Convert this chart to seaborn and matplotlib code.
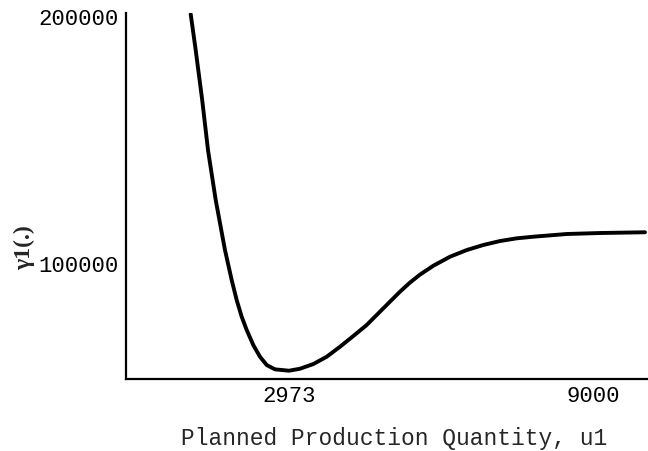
import matplotlib
matplotlib.use("Agg")
import matplotlib.pyplot as plt
import seaborn as sns
import pandas as pd

# Planned production quantity u1 and the resulting cost gamma1
u1 = [1024, 1123, 1252, 1367, 1520, 1704, 1837, 1936, 2035, 2134, 2265,
      2398, 2531, 2695, 2973, 3191, 3455, 3720, 3984, 4248, 4513, 4777,
      5041, 5174, 5372, 5570, 5834, 6165, 6496, 6825, 7156, 7487, 7816,
      8147, 8479, 9139, 10031]
gamma1 = [201200, 186650, 166400, 146150, 125900, 105650, 93500, 85400,
          78650, 73300, 67200, 62450, 59100, 57350, 56800, 57600, 59500,
          62450, 66500, 70850, 75300, 80700, 86100, 88800, 92500, 95700,
          99300, 102950, 105650, 107700, 109300, 110400, 111050, 111600,
          112150, 112550, 112850]

x_ticks = [2973, 9000]
x_tick_labels = ["2973", "9000"]
y_ticks = [100000, 200000]
y_tick_labels = ["100000", "200000"]

df = pd.DataFrame({"u1": u1, "gamma1": gamma1})

sns.set_style("white")
plt.rcParams["font.family"] = ["Liberation Serif", "DejaVu Serif"]

fig = plt.figure(figsize=(6.48, 4.51), dpi=100)
ax = fig.add_axes([0.1944, 0.1596, 0.8056, 0.8116])

sns.lineplot(data=df, x="u1", y="gamma1", ax=ax, color="black",
             linewidth=2.8, sort=False, estimator=None)
ax.lines[0].set_solid_joinstyle("round")
ax.lines[0].set_solid_capstyle("round")

ax.set_xlim(-259, 10090)
ax.set_ylim(53436, 201630)

for side in ("top", "right"):
    ax.spines[side].set_visible(False)
for side in ("left", "bottom"):
    ax.spines[side].set_linewidth(1.6)
    ax.spines[side].set_color("black")

mono = ["Liberation Mono", "DejaVu Sans Mono"]
ax.set_xticks(x_ticks)
ax.set_xticklabels(x_tick_labels, family=mono)
ax.set_yticks(y_ticks)
ax.set_yticklabels(y_tick_labels, family=mono)
ax.tick_params(axis="both", direction="in", length=4, width=1.2,
               colors="black", labelsize=16, pad=5)

ax.set_xlabel("Planned Production Quantity, u1", fontsize=16.5, family=mono)
ax.xaxis.set_label_coords(0.513, -0.13)
ax.set_ylabel("γ1(.)", fontsize=17, fontweight="bold")
ax.yaxis.set_label_coords(-0.175, 0.358)

fig.savefig("out.png", dpi=100)
